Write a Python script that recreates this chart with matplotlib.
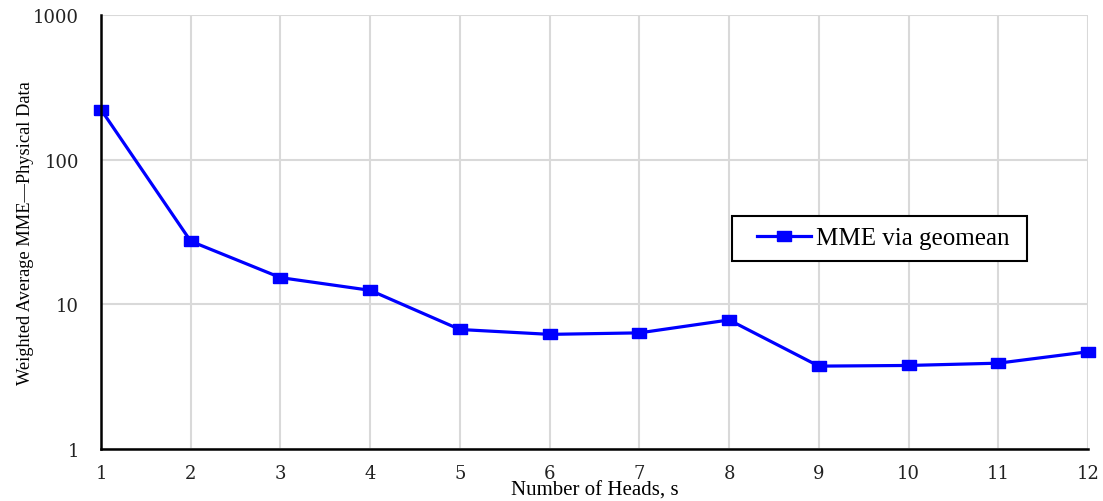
import matplotlib
matplotlib.use("Agg")
import matplotlib.pyplot as plt
from matplotlib.ticker import FixedLocator, FixedFormatter, NullLocator
from matplotlib.legend_handler import HandlerLine2D

heads = [1, 2, 3, 4, 5, 6, 7, 8, 9, 10, 11, 12]
mme_geomean = [222, 27.3, 15.3, 12.5, 6.7, 6.2, 6.35, 7.8, 3.74, 3.78, 3.92, 4.7]
series_label = "MME via geomean"
yticks = [1, 10, 100, 1000]
ytick_labels = ["1", "10", "100", "1000"]

plt.rcParams["font.family"] = ["Liberation Serif", "DejaVu Serif"]

fig = plt.figure(figsize=(11.03, 5.02), dpi=100)
ax = fig.add_axes([101/1103, 52/502, (1088-101)/1103, (450-16)/502])

rect = [(-1.4, -1), (1.4, -1), (1.4, 1), (-1.4, 1), (-1.4, -1)]
line, = ax.plot(heads, mme_geomean, color="#0000ff", lw=2.3, marker=rect, markersize=10,
                markerfacecolor="#0000ff", markeredgecolor="#0000ff", label=series_label + " ",
                zorder=3, clip_on=False)

ax.set_yscale("log")
ax.set_ylim(1, 1000)
ax.set_xlim(1, 12)
ax.yaxis.set_major_locator(FixedLocator(yticks))
ax.yaxis.set_major_formatter(FixedFormatter(ytick_labels))
ax.yaxis.set_minor_locator(NullLocator())
ax.set_xticks(heads)

ax.grid(True, color="#d9d9d9", lw=1.5)
ax.set_axisbelow(True)
for s in ["top", "right"]:
    ax.spines[s].set_visible(False)
for s in ["left", "bottom"]:
    ax.spines[s].set_color("black")
    ax.spines[s].set_linewidth(1.8)
ax.spines["left"].set_zorder(4)

ax.tick_params(axis="both", length=0, labelsize=13, labelcolor="#222222",
               labelfontfamily="DejaVu Serif")
ax.tick_params(axis="y", pad=16)
ax.tick_params(axis="x", pad=11)

ax.set_xlabel("Number of Heads, s", fontsize=15, va="baseline")
ax.xaxis.set_label_coords(0.5, -0.106)
ax.set_ylabel("Weighted Average MME\u2014Physical Data", fontsize=13.2)
ax.yaxis.set_label_coords(-0.068, 0.5)

leg = ax.legend(loc="center", bbox_to_anchor=(0.789, 0.486), frameon=True, fancybox=False,
                prop={"family": "Liberation Serif", "size": 18}, handlelength=2.72,
                borderpad=0.45, handletextpad=0.2, borderaxespad=0,
                handler_map={line: HandlerLine2D(xpad=0.56)})
leg.get_frame().set_edgecolor("black")
leg.get_frame().set_linewidth(1.5)
leg.get_frame().set_alpha(1)

fig.savefig("out.png", dpi=100)
